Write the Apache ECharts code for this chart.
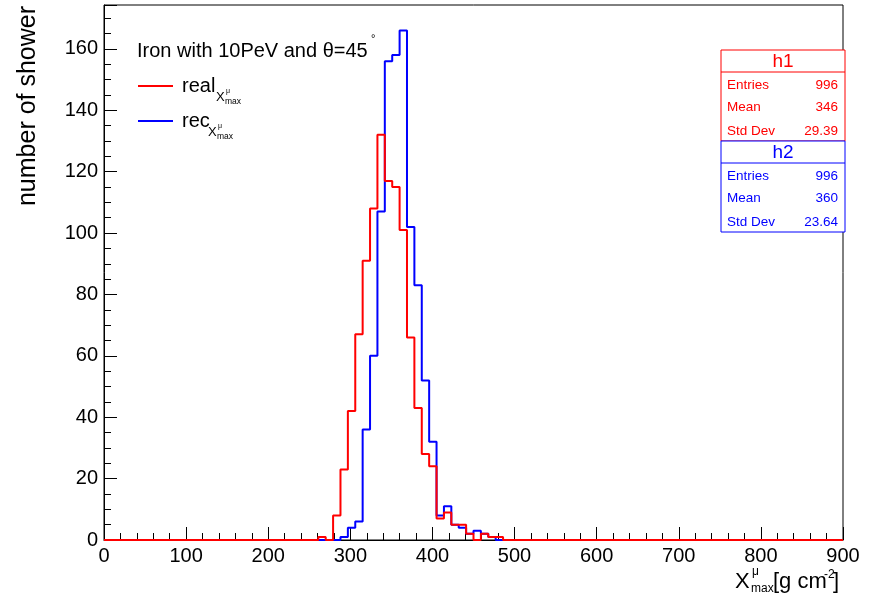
<!DOCTYPE html>
<html>
<head>
<meta charset="utf-8">
<script src="https://cdn.jsdelivr.net/npm/echarts@6/dist/echarts.min.js"></script>
<style>html,body{margin:0;padding:0;background:#fff}#c{width:871px;height:602px}</style>
</head>
<body>
<div id="c"></div>
<script>
// ---- data ----
const binWidth = 9;            // g cm^-2 per bin
const nBins = 100;             // 0 .. 900
const xTicks = [0,100,200,300,400,500,600,700,800,900];
const yTicks = [0,20,40,60,80,100,120,140,160];
const realFirstBin = 29;
const realValues = [1,0,8,23,42,67,91,108,132,117,115,101,66,43,28,24,7,9,5,5,2,0,2,1,1];
const recFirstBin = 32;
const recValues = [1,4,6,36,60,107,156,158,166,102,83,52,32,8,11,5,4,2,3,2,1];
const statNames = ['Entries','Mean','Std Dev'];
const h1Stats = ['996','346','29.39'];
const h2Stats = ['996','360','23.64'];

const FONT = "'Liberation Sans', Arial, Helvetica, sans-serif";
const RED = '#ff0000', BLUE = '#0000ff';

function histPoints(first, vals){
  const full = new Array(nBins).fill(0);
  vals.forEach((v,i)=>{ full[first+i] = v; });
  const pts = full.map((v,k)=>[k*binWidth, v]);
  pts.push([nBins*binWidth, full[nBins-1]]);
  return pts;
}

const chart = echarts.init(document.getElementById('c'), null, {renderer:'canvas'});

function txt(x,y,text,size,color,align,extra){
  return Object.assign({type:'text', x:x, y:y, silent:true, z:100,
    style:{text:text, fill:color||'#000', font: size+'px '+FONT,
      textAlign:align||'left', textVerticalAlign:'middle'}}, extra||{});
}

function statBox(top, title, vals, color){
  const L=721, R=845, els=[];
  const rowsY=[top+35, top+57.5, top+81];
  els.push({type:'rect', shape:{x:L,y:top,width:R-L,height:91}, z:90,
    style:{fill:'#fff', stroke:color, lineWidth:1}});
  els.push({type:'line', shape:{x1:L,y1:top+22,x2:R,y2:top+22}, z:91, style:{stroke:color,lineWidth:1}});
  els.push(txt((L+R)/2, top+11.5, title, 19, color, 'center'));
  statNames.forEach((n,i)=>{
    els.push(txt(727, rowsY[i], n, 13.5, color, 'left'));
    els.push(txt(838, rowsY[i], vals[i], 13.5, color, 'right'));
  });
  return els;
}

const graphics = [
  // y title
  txt(28, 106, 'number of shower', 25, '#000', 'center', {rotation: Math.PI/2}),
  // x title X^mu_max[g cm^-2]
  txt(735, 582, 'X', 22, '#000', 'left'),
  txt(752, 572, 'μ', 12, '#000', 'left'),
  txt(751, 589, 'max', 12, '#000', 'left'),
  txt(773, 582, '[g cm', 22, '#000', 'left'),
  txt(824, 575, '-2', 12, '#000', 'left'),
  txt(833, 582, ']', 22, '#000', 'left'),
  // text in pad
  txt(137, 51, 'Iron with 10PeV and θ=45', 20, '#000', 'left'),
  txt(371, 39, '°', 11, '#000', 'left'),
  // legend
  {type:'line', shape:{x1:138,y1:86,x2:173,y2:86}, style:{stroke:RED,lineWidth:2}, z:100},
  txt(182, 86, 'real', 20, '#000', 'left'),
  txt(216, 97, 'X', 13, '#000', 'left'),
  txt(226, 91, 'μ', 7, '#000', 'left'),
  txt(225, 102, 'max', 8.5, '#000', 'left'),
  {type:'line', shape:{x1:138,y1:121,x2:173,y2:121}, style:{stroke:BLUE,lineWidth:2}, z:100},
  txt(182, 121, 'rec', 20, '#000', 'left'),
  txt(208, 132, 'X', 13, '#000', 'left'),
  txt(218, 126, 'μ', 7, '#000', 'left'),
  txt(217, 137, 'max', 8.5, '#000', 'left'),
].concat(statBox(50,'h1',h1Stats,RED), statBox(141,'h2',h2Stats,BLUE));

chart.setOption({
  animation:false,
  backgroundColor:'#fff',
  grid:{left:104, right:28, top:5, bottom:62, show:true, borderColor:'#000', borderWidth:1, containLabel:false},
  xAxis:{type:'value', min:xTicks[0], max:xTicks[xTicks.length-1], interval:100,
    axisLine:{show:true, onZero:false, lineStyle:{color:'#000',width:1}},
    axisTick:{show:true, inside:true, length:13, lineStyle:{color:'#000'}},
    minorTick:{show:true, splitNumber:5, length:7, lineStyle:{color:'#000'}},
    splitLine:{show:false},
    axisLabel:{color:'#000', fontSize:20, fontFamily:FONT, margin:6}},
  yAxis:{type:'value', min:yTicks[0], max:174.3, interval:20,
    axisLine:{show:true, onZero:false, lineStyle:{color:'#000',width:1}},
    axisTick:{show:true, inside:true, length:13, lineStyle:{color:'#000'}},
    minorTick:{show:true, splitNumber:4, length:7, lineStyle:{color:'#000'}},
    splitLine:{show:false},
    axisLabel:{color:'#000', fontSize:20, fontFamily:FONT, margin:6, showMaxLabel:false,
      formatter:v=> yTicks.indexOf(v)>=0 ? String(v) : ''}},
  series:[
    {type:'line', step:'end', data:histPoints(recFirstBin, recValues), showSymbol:false, symbol:'none',
      lineStyle:{color:BLUE, width:2}, z:3},
    {type:'line', step:'end', data:histPoints(realFirstBin, realValues), showSymbol:false, symbol:'none',
      lineStyle:{color:RED, width:2}, z:4}
  ],
  graphic: graphics
});
</script>
</body>
</html>
